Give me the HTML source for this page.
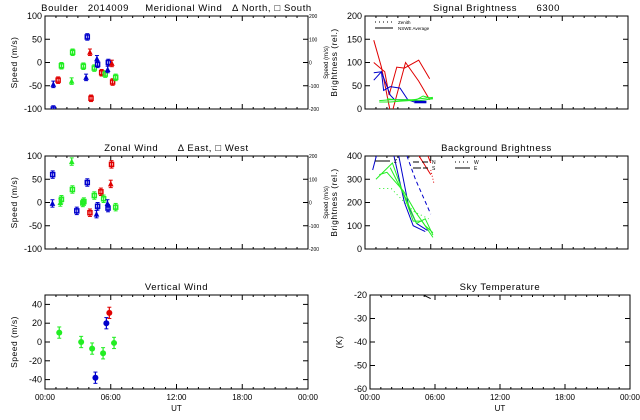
<!DOCTYPE html>
<html><head><meta charset="utf-8"><style>
body{margin:0;background:#fff;}
svg{display:block;font-family:"Liberation Sans",sans-serif;}
text{white-space:pre;}
</style></head><body>
<svg id="c" width="640" height="420" xmlns="http://www.w3.org/2000/svg"></svg>
<script>
// ---- data ----
const merTimes=[0.76,0.76,1.2,1.5,2.52,2.43,3.5,3.75,3.86,4.1,4.2,4.5,4.74,4.8,5.17,5.5,5.72,5.78,6.1,6.17,6.45];
const merVals=[-100,-47,-38,-7,22,-40,-8,-32,55,22,-77,-12,8,-4,-22,-25,-15,0,-2,-42,-32];
const merColors=['b','b','r','g','g','g','g','b','b','r','r','g','b','b','r','g','b','b','r','r','g'];
const merShapes=['s','t','s','s','s','t','s','t','s','t','s','s','t','s','s','s','t','s','t','s','s'];
const zonTimes=[0.68,0.7,1.4,1.5,2.44,2.5,2.9,3.45,3.55,3.86,4.1,4.5,5.1,4.7,4.8,5.35,5.7,5.75,6.0,6.07,6.45];
const zonVals=[-2,60,0,7,88,28,-18,-1,2,43,-22,15,23,-25,-8,8,-2,-12,40,82,-10];
const zonColors=['b','b','g','g','g','g','b','g','g','b','r','g','r','b','b','g','b','b','r','r','g'];
const zonShapes=['t','s','t','s','t','s','s','s','s','s','s','s','s','t','s','s','t','s','t','s','s'];
const vertTimes=[1.3,3.3,4.3,4.6,5.3,5.6,5.87,6.3];
const vertVals=[10,0,-7,-38,-12,20,31,-1];
const vertColors=['g','g','g','b','g','b','r','g'];
const sigLines=[
 {c:'r',t:[0.8,1.5,2.3],v:[148,90,-5]},
 {c:'r',t:[0.8,1.8,2.2,2.9,3.6,4.9,5.9],v:[100,80,30,90,88,105,65]},
 {c:'r',t:[2.5,3.7,4.9,5.9],v:[-5,100,60,20]},
 {c:'b',t:[0.8,1.5,2.3,2.7,3.9,4.5],v:[78,80,30,20,20,15]},
 {c:'b',t:[0.8,1.5,1.7,2.3,3.2,3.9,5.6],v:[62,80,40,48,45,20,15]},
 {c:'g',t:[1.3,2.3,3.6,4.7,5.3,6.2],v:[18,20,20,20,28,22]},
 {c:'g',t:[1.3,2.3,3.9,5.0,6.2],v:[15,15,18,22,25]},
 {c:'g',t:[2.0,3.5,5.0,6.2],v:[22,18,18,22]}];
const bgLines=[
 {c:'b',d:'',t:[0.7,1.2],v:[340,430]},
 {c:'b',d:'',t:[1.3,2.5,3.6,4.4,5.5],v:[450,430,200,100,75]},
 {c:'b',d:'',t:[3.0,4.0,4.7,5.7],v:[420,180,110,80]},
 {c:'b',d:'4,3',t:[3.6,4.6,6.0],v:[430,300,150]},
 {c:'g',d:'',t:[1.0,2.5,4.4,5.2,6.2],v:[300,370,120,120,50]},
 {c:'g',d:'',t:[1.3,2.0,3.5,4.6,5.5,6.2],v:[320,330,250,160,100,70]},
 {c:'g',d:'',t:[2.3,3.7,4.7,5.5,6.2],v:[350,220,110,130,60]},
 {c:'g',d:'1,3',t:[1.3,2.4,3.0,4.5,5.8],v:[260,260,230,160,130]},
 {c:'r',d:'',t:[4.8,6.0],v:[410,320]},
 {c:'r',d:'',t:[5.4,6.0],v:[440,370]},
 {c:'r',d:'1,2',t:[6.0,6.3],v:[340,280]}];
const tickTimes=['00:00','06:00','12:00','18:00','00:00'];
const windTicks=[100,50,0,-50,-100];
const rightTicks=[200,100,0,-100,-200];
const vertTicks=[40,20,0,-20,-40];
const sigTicks=[0,50,100,150,200];
const bgTicks=[0,100,200,300,400];
const tempTicks=[-20,-30,-40,-50,-60];
const COL={r:'#e00000',g:'#22ee22',b:'#0000cc'};
// ---- drawing ----
const svg=document.getElementById('c');
const NS='http://www.w3.org/2000/svg';
function mk(tag,at,parent,name){const e=document.createElementNS(NS,tag);for(const k in at)e.setAttribute(k,at[k]);
 
 
 (parent||svg).appendChild(e);return e;}
function txt(x,y,s,size,anchor,name,rot,ls){const e=mk('text',{x:x,y:y,'font-size':size,'text-anchor':anchor||'middle',fill:'#000'},svg,name);
 if(ls)e.setAttribute('letter-spacing',ls);
 if(rot)e.setAttribute('transform','rotate(-90 '+x+' '+y+')');e.textContent=s;return e;}
function panel(p){
 const g=mk('g',{},svg,p.name);
 const cp='cp'+p.name;const d=mk('clipPath',{id:cp},g,p.name+'-clip');
 mk('rect',{x:p.x0,y:p.y0,width:p.x1-p.x0,height:p.y1-p.y0},d,p.name+'-clip-rect');
 p.sx=t=>p.x0+(t/24)*(p.x1-p.x0);
 p.sy=v=>p.y1-(v-p.vmin)/(p.vmax-p.vmin)*(p.y1-p.y0);
 mk('rect',{x:p.x0,y:p.y0,width:p.x1-p.x0,height:p.y1-p.y0,fill:'none',stroke:'#000','stroke-width':1},g,p.name+'-frame');
 for(let h=0;h<=24;h++){const x=p.sx(h),L=h%6==0?5:2;
  mk('line',{x1:x,x2:x,y1:p.y1,y2:p.y1-L,stroke:'#000'},g,'x-tick');
  mk('line',{x1:x,x2:x,y1:p.y0,y2:p.y0+L,stroke:'#000'},g,'x-tick');}
 if(p.xlabels){tickTimes.forEach((s,i)=>txt(p.sx(i*6),p.y1+11,s,8,'middle','x-tick-label'));txt((p.x0+p.x1)/2,p.y1+22,'UT',8,'middle','x-axis-title');}
 p.ticks.forEach(v=>{const y=p.sy(v);
  mk('line',{x1:p.x0,x2:p.x0+5,y1:y,y2:y,stroke:'#000'},g,'y-tick');
  mk('line',{x1:p.x1,x2:p.x1-5,y1:y,y2:y,stroke:'#000'},g,'y-tick');
  txt(p.x0-3,y+3,String(v),9,'end','y-tick-label');});
 if(p.right){p.right.forEach((v,i)=>{const y=p.sy(p.ticks[i]);txt(p.x1+1,y+2,String(v),5,'start','right-tick-label');});
  txt(p.x1+20,(p.y0+p.y1)/2,'Speed (m/s)',6,'middle','right-axis-title',true);}
 txt(p.x0-28,(p.y0+p.y1)/2,p.ytitle,8.5,'middle','y-axis-title',true,0.5);
 txt((p.x0+p.x1)/2,p.y0-5,p.title,9.5,'middle','panel-title',false,0.6);
 p.g=mk('g',{'clip-path':'url(#'+cp+')'},g,p.name+'-plot-area');
 return p;}
function errpt(p,t,v,c,shape,err,name){const x=p.sx(t),y=p.sy(v),col=COL[c];
 const s=Math.abs(p.sy(err)-p.sy(0));
 mk('line',{x1:x,x2:x,y1:y-s,y2:y+s,stroke:col,'stroke-width':1.2},p.g,name+'-errorbar');
 mk('line',{x1:x-2,x2:x+2,y1:y-s,y2:y-s,stroke:col},p.g,name+'-errorcap');
 mk('line',{x1:x-2,x2:x+2,y1:y+s,y2:y+s,stroke:col},p.g,name+'-errorcap');
 if(shape=='s')mk('rect',{x:x-2,y:y-2,width:4,height:4,fill:'none',stroke:col,'stroke-width':1.5},p.g,name);
 else if(shape=='t')mk('polygon',{points:(x-2)+','+(y+2)+' '+(x+2)+','+(y+2)+' '+x+','+(y-2),fill:col,stroke:col},p.g,name);
 else mk('circle',{cx:x,cy:y,r:3,fill:col},p.g,name);}
function line(p,t,v,c,dash,name,w){const pts=t.map((tt,i)=>p.sx(tt)+','+p.sy(v[i])).join(' ');
 mk('polyline',{points:pts,fill:'none',stroke:COL[c]||c,'stroke-width':w||1,'stroke-dasharray':dash||'none'},p.g,name);}

const mer=panel({name:'meridional-panel',x0:45,x1:308,y0:16,y1:109,vmin:-100,vmax:100,ticks:windTicks,right:rightTicks,ytitle:'Speed (m/s)',title:'Boulder   2014009     Meridional Wind   \u0394 North, \u25A1 South'});
merTimes.forEach((t,i)=>errpt(mer,t,merVals[i],merColors[i],merShapes[i],7,'meridional-point'));
const zon=panel({name:'zonal-panel',x0:45,x1:308,y0:156,y1:249,vmin:-100,vmax:100,ticks:windTicks,right:rightTicks,ytitle:'Speed (m/s)',title:'Zonal Wind      \u0394 East, \u25A1 West'});
zonTimes.forEach((t,i)=>errpt(zon,t,zonVals[i],zonColors[i],zonShapes[i],8,'zonal-point'));
const ver=panel({name:'vertical-panel',x0:45,x1:308,y0:295,y1:389,vmin:-50,vmax:50,ticks:vertTicks,ytitle:'Speed (m/s)',title:'Vertical Wind',xlabels:true});
vertTimes.forEach((t,i)=>errpt(ver,t,vertVals[i],vertColors[i],'c',6,'vertical-point'));
const sig=panel({name:'signal-panel',x0:365,x1:628,y0:16,y1:109,vmin:0,vmax:200,ticks:sigTicks,ytitle:'Brightness (rel.)',title:'Signal Brightness      6300'});
sigLines.forEach(l=>line(sig,l.t,l.v,l.c,'','signal-line'));
line(sig,[4.5,5.6],[15,15],'b','','signal-line-thick',2.5);
const bg=panel({name:'background-panel',x0:365,x1:628,y0:156,y1:249,vmin:0,vmax:400,ticks:bgTicks,ytitle:'Brightness (rel.)',title:'Background Brightness'});
bgLines.forEach(l=>line(bg,l.t,l.v,l.c,l.d,'background-line'));
const tmp=panel({name:'temperature-panel',x0:370,x1:630,y0:295,y1:389,vmin:-60,vmax:-20,ticks:tempTicks,ytitle:'(K)',title:'Sky Temperature',xlabels:true});
line(tmp,[1.0,1.1],[-20.5,-21],'#000','','temperature-line');
line(tmp,[5.0,5.6],[-20.2,-21.5],'#000','','temperature-line');
// legends
mk('line',{x1:375,x2:393,y1:22,y2:22,stroke:'#000','stroke-dasharray':'1,3'},svg,'legend-zenith-line');
txt(398,24,'Zenith',4.5,'start','legend-zenith-label');
mk('line',{x1:375,x2:393,y1:28,y2:28,stroke:'#000'},svg,'legend-average-line');
txt(398,30,'NSWE Average',4.5,'start','legend-average-label');
[['Z',375,161,''],['N',413,162,'6,3'],['S',413,168,'8,2'],['W',455,162,'1,3'],['E',455,168,'']].forEach(a=>{
 mk('line',{x1:a[1],x2:a[1]+15,y1:a[2],y2:a[2],stroke:'#000','stroke-dasharray':a[3]||'none'},svg,'legend-line');
 txt(a[1]+19,a[2]+2,a[0],5,'start','legend-label');});
</script>
</body></html>
